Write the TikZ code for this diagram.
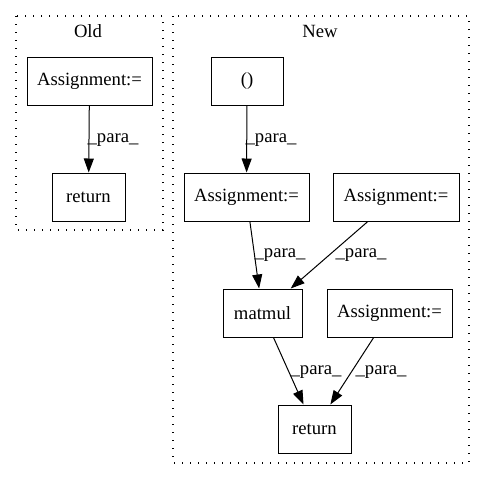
\documentclass[tikz,border=0pt]{standalone}
\usepackage{fontspec}
\setmainfont{Liberation Serif}
\usetikzlibrary{arrows.meta}
\begin{document}
\begin{tikzpicture}[x=0.75pt, y=-0.75pt,
  every node/.style={font=\fontsize{14}{16}\selectfont, inner sep=0pt},
  opbox/.style={draw, line width=0.75pt, rectangle, minimum height=36pt},
  cluster/.style={draw, line width=0.9pt, dash pattern=on 0.9pt off 5.1pt},
  flow/.style={draw, line width=0.75pt, -{Triangle[length=10.5pt, width=7.5pt]}},
  lbl/.style={anchor=center}]
  \useasboundingbox (0,0) rectangle (485,480);

  % clusters
  \draw[cluster] (16,16) rectangle (163,230);
  \node (oldtitle) at (88,31) {Old};
  \draw[cluster] (173,16) rectangle (469,463);
  \node (newtitle) at (320,31) {New};

  % Old
  \node[opbox, minimum width=93.75pt] (oa) at (89.5,81) {Assignment:=};
  \node[opbox, minimum width=54.75pt] (oret) at (88.5,197) {return};
  \draw[flow] (oa) -- (oret);
  \node[lbl] (l0) at (113,140) {\_para\_};

  % New
  \node[opbox, minimum width=54pt] (paren) at (247,81) {()};
  \node[opbox, minimum width=93.75pt] (a1) at (246.5,197) {Assignment:=};
  \node[opbox, minimum width=94.5pt] (a2) at (396,197) {Assignment:=};
  \node[opbox, minimum width=59.25pt] (mm) at (262.5,313) {matmul};
  \node[opbox, minimum width=93.75pt] (a3) at (389.5,313) {Assignment:=};
  \node[opbox, minimum width=54.75pt] (nret) at (314.5,429) {return};

  \draw[flow] (paren) -- (a1);
  \node[lbl] (l1) at (271,140) {\_para\_};
  \draw[flow] (a1) -- (mm);
  \node[lbl] (l2) at (280,255) {\_para\_};
  \draw[flow] (a2) -- (mm);
  \node[lbl] (l3) at (361,255) {\_para\_};
  \draw[flow] (mm) -- (nret);
  \node[lbl] (l4) at (316,372) {\_para\_};
  \draw[flow] (a3) -- (nret);
  \node[lbl] (l5) at (381,372) {\_para\_};
\end{tikzpicture}
\end{document}
